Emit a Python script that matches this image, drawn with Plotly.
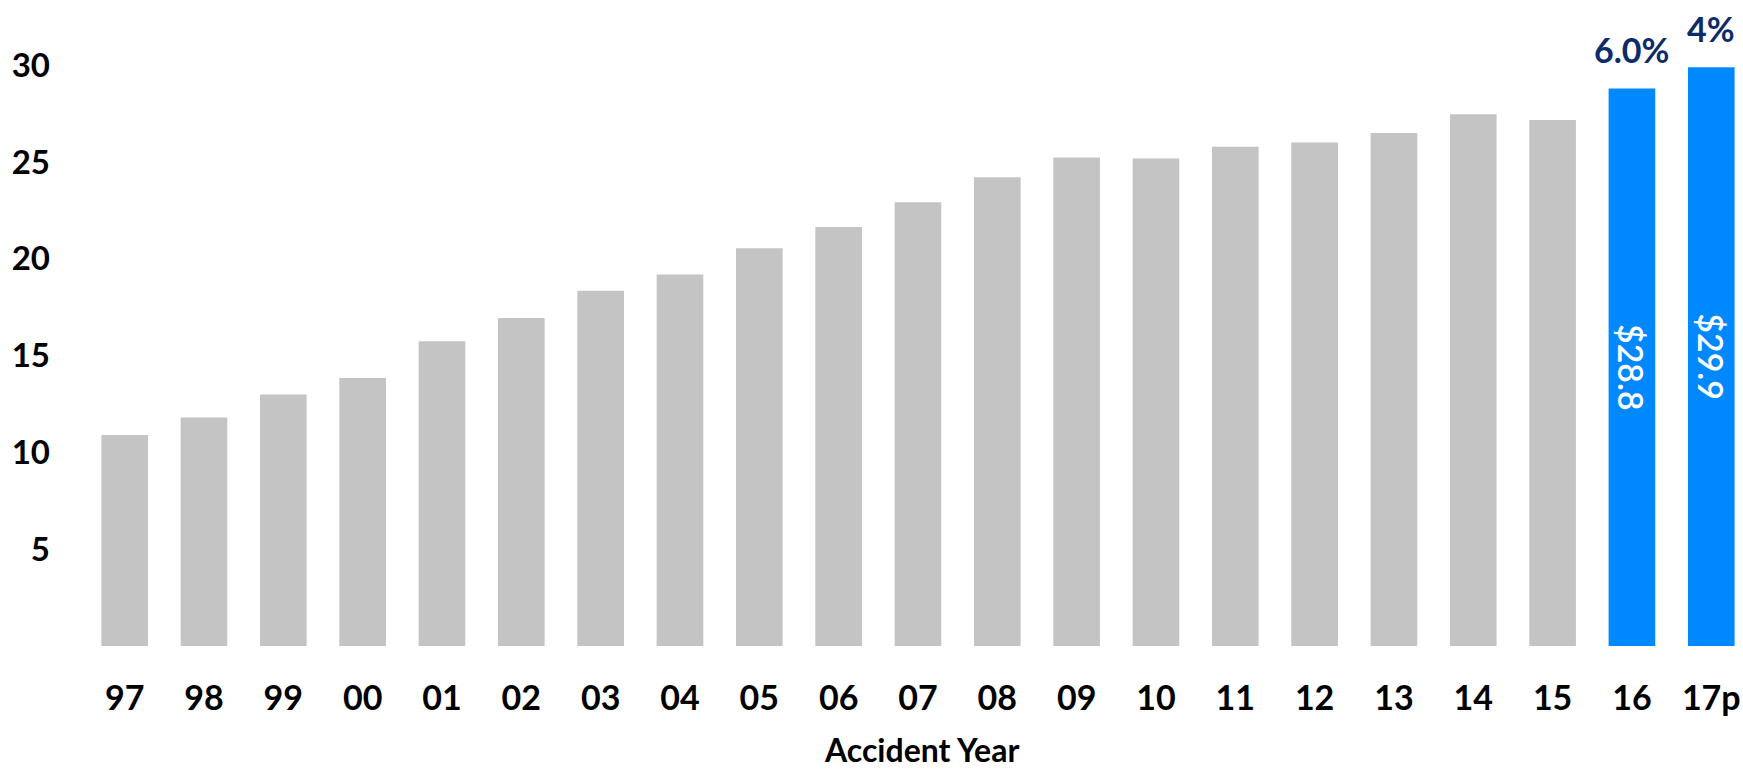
import plotly.graph_objects as go

# Accident years and average claim severity ($ thousands)
years = ["97", "98", "99", "00", "01", "02", "03", "04", "05", "06", "07",
         "08", "09", "10", "11", "12", "13", "14", "15", "16", "17p"]
severity = [10.9, 11.8, 13.0, 13.85, 15.75, 16.95, 18.35, 19.2, 20.55, 21.65,
            22.93, 24.22, 25.24, 25.19, 25.79, 26.01, 26.5, 27.48, 27.18, 28.8, 29.9]
highlight_years = ["16", "17p"]
growth_labels = ["6.0%", "4%"]
y_ticks = [5, 10, 15, 20, 25, 30]

GRAY = "#C4C4C4"
BLUE = "#0088FF"
NAVY = "#0B2B69"
FONT = "Lato"

bar_colors = [BLUE if y in highlight_years else GRAY for y in years]
bar_text = [f"${v:.1f}" if y in highlight_years else "" for y, v in zip(years, severity)]

fig = go.Figure(
    go.Bar(
        x=years,
        y=severity,
        marker=dict(color=bar_colors, line=dict(width=0)),
        text=bar_text,
        textposition="inside",
        insidetextanchor="middle",
        textangle=90,
        textfont=dict(family=FONT, size=35, color="white", weight=600),
        cliponaxis=False,
        hoverinfo="skip",
    )
)

# Year-over-year change above the highlighted bars (category index positions)
for yr, lbl in zip(highlight_years, growth_labels):
    idx = years.index(yr)
    fig.add_annotation(
        x=idx, y=severity[idx], xref="x", yref="y",
        text=f"<b>{lbl}</b>", showarrow=False,
        xanchor="center", yanchor="middle", yshift=39,
        font=dict(family=FONT, size=34, color=NAVY),
    )

fig.add_annotation(
    x=0.5047, y=-0.1717, xref="paper", yref="paper",
    text="<b>Accident Year</b>", showarrow=False,
    xanchor="center", yanchor="middle", borderpad=0,
    font=dict(family=FONT, size=32, color="black"),
)

fig.update_layout(
    width=1743,
    height=770,
    margin=dict(l=85, r=0, t=46, b=124),
    plot_bgcolor="white",
    paper_bgcolor="white",
    bargap=0.412,
    showlegend=False,
    xaxis=dict(
        type="category",
        range=[-0.5, 20.4],
        showgrid=False,
        showline=False,
        zeroline=False,
        ticks="",
        ticklabelstandoff=29,
        tickfont=dict(family=FONT, size=34, color="black", weight="bold"),
    ),
    yaxis=dict(
        range=[0, 31],
        tickvals=y_ticks,
        showgrid=False,
        showline=False,
        zeroline=False,
        ticks="",
        ticklabelstandoff=34,
        tickfont=dict(family=FONT, size=33, color="black", weight="bold"),
    ),
)

fig.write_html("out.html")
